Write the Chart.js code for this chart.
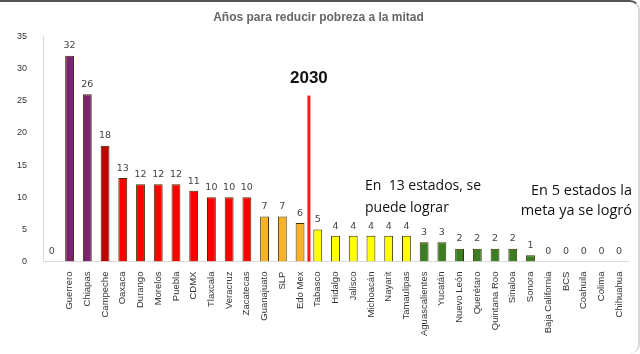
<!DOCTYPE html>
<html lang="es">
<head>
  <meta charset="UTF-8" />
  <title>Años para reducir pobreza a la mitad</title>
  <script src="https://cdn.jsdelivr.net/npm/chart.js"></script>
  <style>
    html, body { margin: 0; padding: 0; background: #fff; }
    .marco {
      width: 638px; height: 352px;
      border-top: 2px solid #555;
      border-right: 2px solid #d8d8d8;
      border-radius: 0 10px 10px 0;
      position: relative;
    }
    .marco div { position: absolute; left: 0; top: 0; width: 638px; height: 352px; }
  </style>
</head>
<body>
  <div class="marco"><div><canvas id="grafico"></canvas></div></div>

  <script>
    const estados = ['', 'Guerrero', 'Chiapas', 'Campeche', 'Oaxaca', 'Durango', 'Morelos', 'Puebla', 'CDMX',
      'Tlaxcala', 'Veracruz', 'Zacatecas', 'Guanajuato', 'SLP', 'Edo Mex', 'Tabasco', 'Hidalgo', 'Jalisco',
      'Michoacán', 'Nayarit', 'Tamaulipas', 'Aguascalientes', 'Yucatán', 'Nuevo León', 'Querétaro',
      'Quintana Roo', 'Sinaloa', 'Sonora', 'Baja California', 'BCS', 'Coahuila', 'Colima', 'Chihuahua'];
    const anios = [0, 32, 26, 18, 13, 12, 12, 12, 11, 10, 10, 10, 7, 7, 6, 5, 4, 4, 4, 4, 4, 3, 3, 2, 2, 2, 2, 1, 0, 0, 0, 0, 0];
    const grupos = ['', 'morado', 'morado', 'guinda', 'rojo', 'rojo', 'rojo', 'rojo', 'rojo', 'rojo', 'rojo', 'rojo',
      'naranja', 'naranja', 'naranja', 'amarillo', 'amarillo', 'amarillo', 'amarillo', 'amarillo', 'amarillo',
      'verde', 'verde', 'verde', 'verde', 'verde', 'verde', 'verde', '', '', '', '', ''];
    const colores = { morado: '#7a2470', guinda: '#c00000', rojo: '#ff0000', naranja: '#f7b227', amarillo: '#ffff00', verde: '#3b7d23', '': '#ffffff' };
    const ticksY = [0, 5, 10, 15, 20, 25, 30, 35];
    const linea2030 = 25.8;   // altura de la línea roja

    const etiquetas = {
      id: 'etiquetas',
      afterDatasetsDraw(chart) {
        const { ctx, scales: { x, y } } = chart;
        ctx.save();
        // valores sobre las barras
        ctx.font = '9.5px "DejaVu Sans", sans-serif';
        ctx.fillStyle = '#444';
        ctx.textAlign = 'center';
        ctx.textBaseline = 'bottom';
        anios.forEach((v, i) => {
          ctx.fillText(String(v), x.getPixelForValue(i), y.getPixelForValue(v) - 5);
        });
        // línea 2030
        const xl = (x.getPixelForValue(14) + x.getPixelForValue(15)) / 2;
        ctx.fillStyle = '#ff1a1a';
        ctx.fillRect(xl - 1.5, y.getPixelForValue(linea2030), 3, y.getPixelForValue(0) - y.getPixelForValue(linea2030));
        ctx.fillStyle = '#111';
        ctx.font = 'bold 17px "Liberation Sans", Arial, sans-serif';
        ctx.textBaseline = 'alphabetic';
        ctx.fillText('2030', xl, 81);
        // notas
        ctx.font = '14px "Open Sans", "DejaVu Sans", sans-serif';
        ctx.textAlign = 'left';
        ctx.fillText('En  13 estados, se', 365, 188);
        ctx.fillText('puede lograr', 365, 210);
        ctx.font = '14.5px "Open Sans", "DejaVu Sans", sans-serif';
        ctx.textAlign = 'right';
        ctx.fillText('En 5 estados la', 632, 193);
        ctx.fillText('meta ya se logró', 632, 213);
        ctx.restore();
      }
    };

    new Chart(document.getElementById('grafico'), {
      type: 'bar',
      data: {
        labels: estados,
        datasets: [{
          data: anios,
          backgroundColor: grupos.map(g => colores[g]),
          borderColor: '#3d3000',
          borderWidth: 1,
          barPercentage: 0.5,
          categoryPercentage: 1
        }]
      },
      options: {
        responsive: true,
        maintainAspectRatio: false,
        animation: false,
        layout: { padding: { left: 9, right: 10, top: 0, bottom: 16 } },
        plugins: {
          legend: { display: false },
          tooltip: { enabled: false },
          title: {
            display: true,
            text: 'Años para reducir pobreza a la mitad',
            color: '#666',
            font: { family: '"Liberation Sans Narrow", "Liberation Sans", sans-serif', size: 12, weight: 'bold' },
            padding: { top: 8, bottom: 12 }
          }
        },
        scales: {
          x: {
            grid: { display: false },
            border: { color: '#d9d9d9' },
            ticks: {
              color: '#333',
              font: { family: '"Liberation Sans", Arial, sans-serif', size: 9.5 },
              maxRotation: 90, minRotation: 90,
              autoSkip: false, padding: 2
            }
          },
          y: {
            min: 0, max: 35,
            afterBuildTicks: s => { s.ticks = ticksY.map(v => ({ value: v })); },
            grid: { display: false },
            border: { color: '#d9d9d9' },
            ticks: {
              color: '#333',
              font: { family: '"Liberation Sans", Arial, sans-serif', size: 9 },
              padding: 8
            }
          }
        }
      },
      plugins: [etiquetas]
    });
  </script>
</body>
</html>
